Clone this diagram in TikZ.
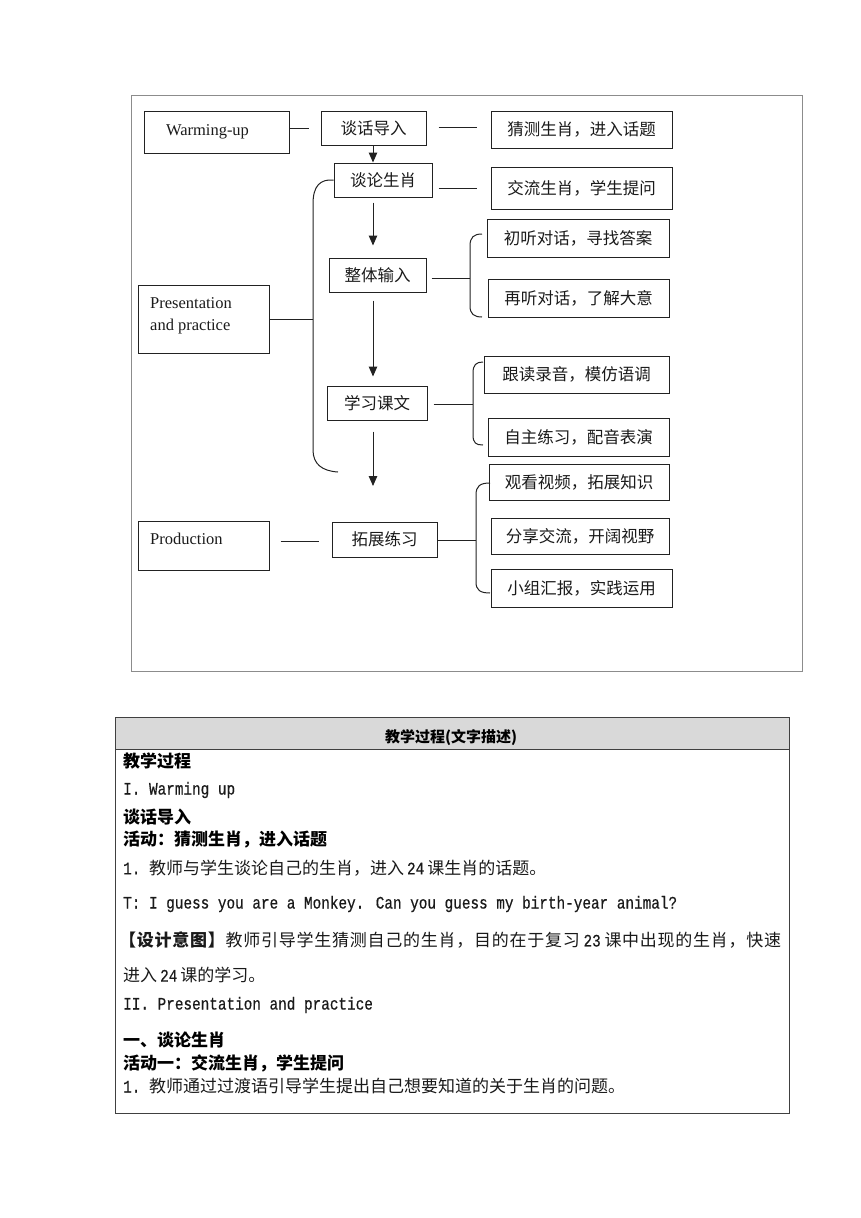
\documentclass[tikz,border=0pt]{standalone}
\usepackage{fontspec}
\setmainfont{Liberation Serif}
\newfontfamily\cjk{Noto Sans CJK SC}
\newfontfamily\mono[FakeStretch=0.82,FakeBold=0.5]{Liberation Mono}
\usetikzlibrary{arrows.meta}
\definecolor{linec}{HTML}{222222}
\definecolor{txt}{HTML}{1A1A1A}
\definecolor{framec}{HTML}{8C8C8C}
\definecolor{tblc}{HTML}{404040}
\definecolor{hdr}{HTML}{D9D9D9}
\def\spreadchars#1{\ifx\relax#1\unskip\else#1\hfil\expandafter\spreadchars\fi}
\newcommand\monotxt[1]{{\mono\fontsize{17.5}{19}\selectfont #1}}
\begin{document}
\begin{tikzpicture}[x=1pt,y={(0pt,-1pt)},
  box/.style={draw=linec, line width=1pt, inner sep=0pt, text=txt,
    font=\cjk\fontsize{16.5}{19}\selectfont},
  ebox/.style={draw=linec, line width=1pt, inner sep=0pt, text=txt,
    font=\fontsize{16.5}{22}\selectfont, align=left},
  conn/.style={draw=linec, line width=1pt},
  arr/.style={draw=linec, line width=1pt, -{Triangle[length=10pt,width=8.5pt]}},
  brace/.style={draw=linec, line width=1pt},
  body/.style={anchor=west, inner sep=0pt, text=txt, font=\cjk\fontsize{17}{19}\selectfont},
  bodyb/.style={anchor=west, inner sep=0pt, text=black, font=\cjk\bfseries\fontsize{17}{19}\selectfont},
  bodym/.style={anchor=west, inner sep=0pt, text=txt, font=\mono\fontsize{17.5}{19}\selectfont}]
\useasboundingbox (0,0) rectangle (860,1218);
% outer frame
\node[draw=framec, line width=1pt, minimum width=671, minimum height=576, inner sep=0pt, anchor=north west] (frame) at (130.5,95) {};
% left column
\node[ebox, minimum width=145, minimum height=42, text width=101, inner xsep=22pt] (wu) at (216.5,132) {Warming-up};
\node[draw=linec, line width=1pt, minimum width=131, minimum height=68, inner sep=0pt] (pp) at (203.5,319) {};
\node[anchor=north west, inner sep=0pt, text=txt, font=\fontsize{16.5}{22}\selectfont, align=left] (ppt) at (150,297) {Presentation\\and practice};
\node[draw=linec, line width=1pt, minimum width=131, minimum height=49, inner sep=0pt] (pr) at (203.5,545.5) {};
\node[anchor=north west, inner sep=0pt, text=txt, font=\fontsize{16.5}{22}\selectfont] (prt) at (150,533) {Production};
% middle column
\node[box, minimum width=105, minimum height=34] (tan) at (373.5,128) {谈话导入};
\node[box, minimum width=98, minimum height=34] (tl) at (383,180) {谈论生肖};
\node[box, minimum width=97, minimum height=34] (zt) at (377.5,275) {整体输入};
\node[box, minimum width=100, minimum height=34] (xx) at (377,403) {学习课文};
\node[box, minimum width=105, minimum height=35] (tz) at (384.5,539.5) {拓展练习};
% right column
\node[box, minimum width=181, minimum height=37] (g1) at (581.5,129.5) {猜测生肖，进入话题};
\node[box, minimum width=181, minimum height=42] (g2) at (581.5,188) {交流生肖，学生提问};
\node[box, minimum width=182, minimum height=38] (g3) at (578,238) {初听对话，寻找答案};
\node[box, minimum width=181, minimum height=38] (g4) at (578.5,298) {再听对话，了解大意};
\node[box, minimum width=185, minimum height=37] (g5) at (576.5,374.5) {跟读录音，模仿语调};
\node[box, minimum width=181, minimum height=38] (g6) at (578.5,437) {自主练习，配音表演};
\node[box, minimum width=180, minimum height=36] (g7) at (579,482) {观看视频，拓展知识};
\node[box, minimum width=178, minimum height=36] (g8) at (580,536) {分享交流，开阔视野};
\node[box, minimum width=181, minimum height=38] (g9) at (581.5,588) {小组汇报，实践运用};
% coordinates
\coordinate (b1) at (470,278);
\coordinate (b2) at (473,404);
\coordinate (b3) at (476,540);
\coordinate (bb) at (313,319);
\coordinate (aend) at (373,486);
% horizontal connectors
\draw[conn, shorten >=12pt] (wu.east |- tan) -- (tan.west);
\draw[conn, shorten <=12pt, shorten >=14pt] (tan.east |- 0,127) -- (g1.west |- 0,127);
\draw[conn, shorten <=6pt, shorten >=14pt] (tl.east |- g2.west) -- (g2.west);
\draw[conn, shorten <=5pt] (zt.east |- b1) -- (b1);
\draw[conn, shorten <=6pt] (xx.east |- b2) -- (b2);
\draw[conn] (tz.east |- b3) -- (b3);
\draw[conn] (pp.east |- bb) -- (bb);
\draw[conn, shorten <=11pt, shorten >=13pt] (pr.east |- 0,541) -- (tz.west |- 0,541);
% vertical arrows
\draw[arr] (373,145) -- (tl.north -| 373,0);
\draw[arr, shorten <=5pt, shorten >=12pt] (tl.south -| 373,0) -- (zt.north -| 373,0);
\draw[arr, shorten <=8pt, shorten >=9pt] (zt.south -| 373,0) -- (xx.north -| 373,0);
\draw[arr, shorten <=11pt] (xx.south -| 373,0) -- (aend);
% braces
\draw[brace] (482,234) .. controls (474,234) and (470,237) .. (470,246) -- (470,306) .. controls (470,314) and (474,317) .. (482,317);
\draw[brace] (483,362) .. controls (476,362) and (473,365) .. (473,373) -- (473,435) .. controls (473,443) and (476,445) .. (483,445);
\draw[brace] (490,483) .. controls (480,483) and (476,486) .. (476,495) -- (476,582) .. controls (476,590) and (480,593) .. (490,593);
\draw[brace] (tl.west) .. controls (320,179) and (313,186) .. (313,204) -- (313,450) .. controls (313,464) and (322,471) .. (338,472);
% table
\node[draw=tblc, line width=1pt, fill=hdr, minimum width=674, minimum height=32, inner sep=0pt, anchor=north west] (thead) at (115,717) {};
\node[draw=tblc, line width=1pt, minimum width=674, minimum height=364, inner sep=0pt, anchor=north west] (tbody) at (115,749) {};
\node[inner sep=0pt, text=black, font=\cjk\bfseries\fontsize{15}{17}\selectfont] (th) at (451,738) {教学过程(文字描述)};
\node[bodyb] (l1) at (123,761) {教学过程};
\node[bodym] (l2) at (123,790) {I. Warming up};
\node[bodyb] (l3) at (123,817) {谈话导入};
\node[bodyb] (l4) at (123,840) {活动：猜测生肖，进入话题};
\node[body] (l5) at (123,868) {\monotxt{1.\ }教师与学生谈论自己的生肖，进入\hspace{3pt}\monotxt{24}\hspace{3pt}课生肖的话题。};
\node[bodym] (l6) at (123,904) {T: I guess you are a Monkey. Can you guess my birth-year animal?};
\node[body] (l7) at (119,940) {\hbox to 662pt{{\bfseries\spreadchars 【设计意图】\relax}\hfil\spreadchars 教师引导学生猜测自己的生肖，目的在于复习{\hspace{3pt}\monotxt{23}\hspace{3pt}}课中出现的生肖，快速\relax}};
\node[body] (l8) at (123,975) {进入\hspace{3pt}\monotxt{24}\hspace{3pt}课的学习。};
\node[bodym] (l9) at (123,1005) {II. Presentation and practice};
\node[bodyb] (l10) at (123,1040) {一、谈论生肖};
\node[bodyb] (l11) at (123,1063) {活动一：交流生肖，学生提问};
\node[body] (l12) at (123,1086) {\monotxt{1.\ }教师通过过渡语引导学生提出自己想要知道的关于生肖的问题。};
\end{tikzpicture}
\end{document}
